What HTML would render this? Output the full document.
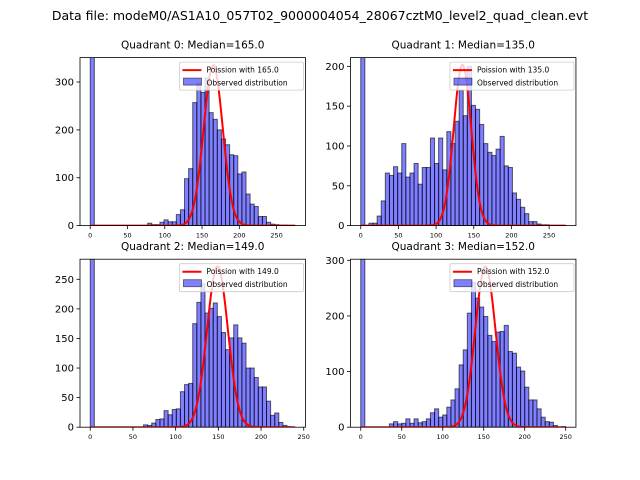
<!DOCTYPE html>
<html><head><meta charset="utf-8"><style>
body{margin:0;background:#fff;}
svg{display:block;font-family:"DejaVu Sans","Liberation Sans",sans-serif;}
</style></head><body>
<svg id="fig" width="640" height="480" viewBox="0 0 640 480">
<rect width="640" height="480" fill="#fff"/>
<text x="320" y="20" font-size="12.5" text-anchor="middle">Data file: modeM0/AS1A10_057T02_9000004054_28067cztM0_level2_quad_clean.evt</text>
</svg>
<script>
const medians = [165.0, 135.0, 149.0, 152.0];
const dataMax = [275, 272, 240, 250];
const yMax = [351, 211, 284, 302];
const poissonPeak = [335, 202, 272, 289];
const yTicks0 = [0, 100, 200, 300];
const yTicks1 = [0, 50, 100, 150, 200];
const yTicks2 = [0, 50, 100, 150, 200, 250];
const yTicks3 = [0, 100, 200, 300];
const xTicks01 = [0, 50, 100, 150, 200, 250];
const xTicks2 = [0, 50, 100, 150, 200, 250];
const xTicks3 = [0, 50, 100, 150, 200, 250];
const counts0 = [400,0,0,0,0,0,0,0,0,0,0,0,0,0,5,2,2,7,12,8,8,23,33,98,119,257,297,278,308,236,222,200,181,169,148,146,108,112,66,45,40,19,19,7,3,2,1,1,0,0];
const counts1 = [250,0,3,3,12,31,66,63,74,66,103,61,66,78,52,73,73,110,78,110,70,118,103,131,170,138,200,151,146,127,103,92,88,96,112,75,73,41,33,23,15,5,5,2,1,1,0,0,0,0];
const counts2 = [300,0,0,0,0,0,0,0,0,0,0,0,0,4,3,7,13,14,28,21,30,31,60,72,74,175,211,242,193,201,210,187,160,131,151,173,151,142,100,100,84,68,68,44,20,24,8,3,1,0];
const counts3 = [350,0,0,0,0,0,0,6,10,6,7,15,7,15,8,10,15,26,33,18,22,36,49,69,112,139,205,260,232,216,199,165,154,171,172,183,136,133,108,101,72,49,49,33,18,10,9,3,0,1];

const NS = "http://www.w3.org/2000/svg";
const svg = document.getElementById("fig");
function mk(tag, attrs, parent) {
  const e = document.createElementNS(NS, tag);
  for (const k in attrs) e.setAttribute(k, attrs[k]);
  (parent || svg).appendChild(e);
  return e;
}
const boxes = [[80,57.6],[350.5,57.6],[80,259.2],[350.5,259.2]];
const W = 225.45, H = 168;
const allCounts = [counts0, counts1, counts2, counts3];
const allYTicks = [yTicks0, yTicks1, yTicks2, yTicks3];
const allXTicks = [xTicks01, xTicks01, xTicks2, xTicks3];

for (let q = 0; q < 4; q++) {
  const [bx, by] = boxes[q];
  const g = mk("g", {});
  
  
  const xmin = -0.05 * dataMax[q], xmax = dataMax[q] * 1.05;
  const xs = v => bx + (v - xmin) / (xmax - xmin) * W;
  const ys = v => by + H - v / yMax[q] * H;
  const clip = mk("clipPath", {id: "clip" + q}, g);
  mk("rect", {x: bx, y: by, width: W, height: H}, clip);
  const plot = mk("g", {"clip-path": "url(#clip" + q + ")"}, g);
  const counts = allCounts[q];
  const bw = dataMax[q] / counts.length;
  counts.forEach((c, i) => {
    const x0 = xs(i * bw), x1 = xs((i + 1) * bw);
    const r = mk("rect", {x: x0, y: ys(c), width: x1 - x0, height: ys(0) - ys(c),
      fill: "rgba(0,0,255,0.5)", stroke: "rgba(0,0,0,0.6)", "stroke-width": 1}, plot);
    
    
  });
  const mu = medians[q], sig = Math.sqrt(mu);
  let d = "";
  for (let v = 0; v <= dataMax[q]; v += 1) {
    const p = poissonPeak[q] * Math.exp(-0.5 * ((v - mu) / sig) ** 2);
    d += (v === 0 ? "M" : "L") + xs(v).toFixed(2) + "," + ys(p).toFixed(2);
  }
  const line = mk("path", {d: d, fill: "none", stroke: "#ff0000", "stroke-width": 2}, plot);
  
  
  const frame = mk("rect", {x: bx, y: by, width: W, height: H, fill: "none", stroke: "#000", "stroke-width": 0.8}, g);
  
  
  allYTicks[q].forEach(t => {
    const y = ys(t);
    mk("line", {x1: bx - 3.5, x2: bx, y1: y, y2: y, stroke: "#000", "stroke-width": 0.8}, g);
    const tl = mk("text", {x: bx - 6, y: y + 3.5, "font-size": 10, "text-anchor": "end"}, g);
    tl.textContent = t;
    
    
  });
  allXTicks[q].forEach(t => {
    const x = xs(t);
    mk("line", {x1: x, x2: x, y1: by + H, y2: by + H + 3.5, stroke: "#000", "stroke-width": 0.8}, g);
    const tl = mk("text", {x: x, y: by + H + 12, "font-size": 6.5, "text-anchor": "middle"}, g);
    tl.textContent = t;
    
    
  });
  const title = mk("text", {x: bx + W / 2, y: by - 9, "font-size": 10.5, "text-anchor": "middle"}, g);
  title.textContent = "Quadrant " + q + ": Median=" + mu.toFixed(1);
  
  
  const lx = bx + W - 126, ly = by + 4.5;
  const leg = mk("g", {}, g);
  
  
  mk("rect", {x: lx, y: ly, width: 124, height: 28, fill: "rgba(255,255,255,0.8)", stroke: "#ccc", "stroke-width": 0.8, rx: 1.5}, leg);
  mk("line", {x1: lx + 3, x2: lx + 22, y1: ly + 8, y2: ly + 8, stroke: "#ff0000", "stroke-width": 2}, leg);
  const t1 = mk("text", {x: lx + 27, y: ly + 10.5, "font-size": 7.5}, leg);
  t1.textContent = "Poission with " + mu.toFixed(1);
  
  
  mk("rect", {x: lx + 4, y: ly + 16, width: 18, height: 7, fill: "rgba(0,0,255,0.5)", stroke: "rgba(0,0,0,0.6)", "stroke-width": 0.8}, leg);
  const t2 = mk("text", {x: lx + 27, y: ly + 23.5, "font-size": 7.5}, leg);
  t2.textContent = "Observed distribution";
  
  
}
</script>
</body></html>
